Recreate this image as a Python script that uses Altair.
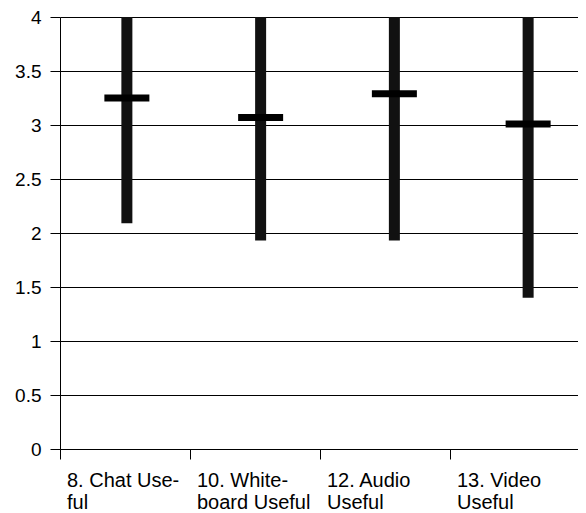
import json
import altair as alt
import pandas as pd

categories = ["8. Chat Useful", "10. Whiteboard Useful", "12. Audio Useful", "13. Video Useful"]
label_lines = [["8. Chat Use-", "ful"], ["10. White-", "board Useful"], ["12. Audio", "Useful"], ["13. Video", "Useful"]]
low_values = [2.09, 1.93, 1.93, 1.40]
high_values = [4.0, 4.0, 4.0, 4.0]
mean_values = [3.25, 3.07, 3.29, 3.01]
y_ticks = [0, 0.5, 1, 1.5, 2, 2.5, 3, 3.5, 4]

df = pd.DataFrame({"cat": categories, "low": low_values, "high": high_values, "mean": mean_values})

# label expression mapping categories to two-line labels
expr = "''"
for c, lines in reversed(list(zip(categories, label_lines))):
    expr = f"datum.label == {json.dumps(c)} ? {json.dumps(lines)} : ({expr})"

FONT = "Liberation Sans"

y_scale = alt.Scale(domain=[0, 4], nice=False, zero=True)

axis_layer = alt.Chart(df).mark_tick(opacity=0).encode(
    x=alt.X("cat:N", sort=categories, scale=alt.Scale(range=[0, 520], paddingInner=0, paddingOuter=0),
            axis=alt.Axis(title=None, bandPosition=0, labelAlign="left", labelOffset=-58, labelBaseline="top",
                          tickSize=10, labelPadding=11, grid=False, domainColor="black", tickColor="black",
                          labelAngle=0, labelFontSize=20, labelFont=FONT, labelLineHeight=22,
                          labelColor="black", labelLimit=0, labelOverlap=False, labelExpr=expr)),
    y=alt.Y("high:Q", scale=y_scale,
            axis=alt.Axis(title=None, values=y_ticks, format=".1~f", grid=True, gridColor="black",
                          gridOpacity=1, gridWidth=1, tickSize=10, tickColor="black", domainColor="black",
                          labelFontSize=19, labelFont=FONT, labelColor="black", labelPadding=9)),
)

bar_x = alt.X("cat:N", sort=categories, scale=alt.Scale(range=[0, 535], paddingInner=0, paddingOuter=0), axis=None)

range_bars = alt.Chart(df).mark_bar(color="#111111", size=11, opacity=1).encode(
    x=bar_x,
    y=alt.Y("low:Q", scale=y_scale),
    y2="high:Q",
)

mean_ticks = alt.Chart(df).mark_tick(color="black", size=45, thickness=7, orient="horizontal", opacity=1).encode(
    x=bar_x,
    y=alt.Y("mean:Q", scale=y_scale),
)

chart = alt.layer(axis_layer, range_bars, mean_ticks).resolve_scale(x="independent").properties(
    width=518, height=432,
    padding={"left": 52, "top": 9, "right": 0, "bottom": 64},
    autosize=alt.AutoSizeParams(type="none"),
    background="white",
).configure_view(stroke=None)

chart.save("out.html", embed_options={"renderer": "svg", "actions": False})
